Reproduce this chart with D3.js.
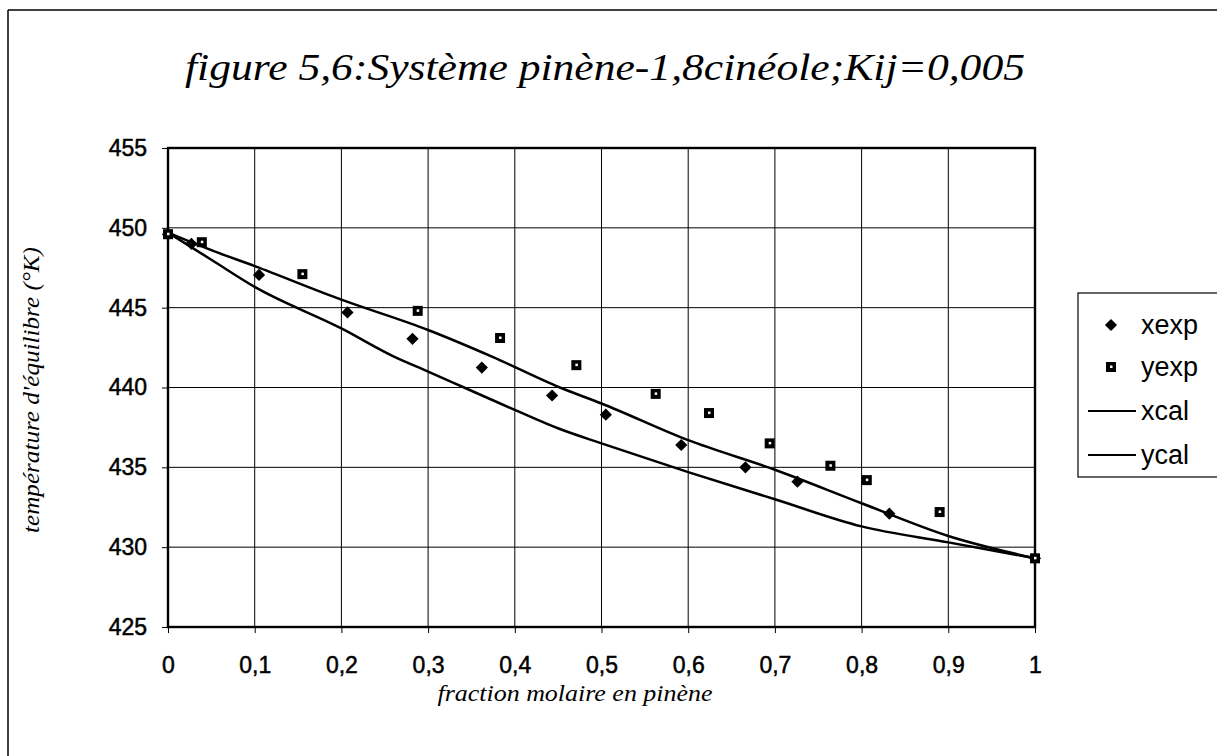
<!DOCTYPE html>
<html>
<head>
<meta charset="utf-8">
<script src="https://cdn.jsdelivr.net/npm/d3@7"></script>
<style>
html,body{margin:0;padding:0;background:#fff;}
svg{display:block;}
</style>
</head>
<body>
<svg id="chart" width="1217" height="756"></svg>
<script>
// ---- data ----
const titleText = "figure 5,6:Système pinène-1,8cinéole;Kij=0,005";
const xAxisTitle = "fraction molaire en pinène";
const yAxisTitle = "température d'équilibre (°K)";

const xTicks = [0, 0.1, 0.2, 0.3, 0.4, 0.5, 0.6, 0.7, 0.8, 0.9, 1];
const xTickLabels = ["0", "0,1", "0,2", "0,3", "0,4", "0,5", "0,6", "0,7", "0,8", "0,9", "1"];
const yTicks = [425, 430, 435, 440, 445, 450, 455];
const yTickLabels = ["425", "430", "435", "440", "445", "450", "455"];

const xexpX = [0, 0.027, 0.105, 0.207, 0.282, 0.362, 0.443, 0.505, 0.592, 0.666, 0.726, 0.832, 1];
const xexpT = [449.6, 449.0, 447.05, 444.7, 443.05, 441.25, 439.5, 438.3, 436.4, 435.0, 434.1, 432.1, 429.3];

const yexpX = [0, 0.039, 0.155, 0.288, 0.383, 0.471, 0.5625, 0.624, 0.694, 0.764, 0.806, 0.890, 1];
const yexpT = [449.6, 449.1, 447.1, 444.8, 443.1, 441.4, 439.6, 438.4, 436.5, 435.1, 434.2, 432.2, 429.3];

const xcalX = [0, 0.05, 0.1, 0.2, 0.3, 0.375, 0.452, 0.5, 0.6, 0.7, 0.8, 0.9, 1];
const xcalT = [449.7, 448.6, 447.6, 445.5, 443.6, 441.9, 440.0, 439.0, 436.7, 434.85, 432.75, 430.7, 429.3];

const ycalX = [0, 0.05, 0.1, 0.2, 0.26, 0.3, 0.4, 0.452, 0.5, 0.6, 0.7, 0.8, 0.9, 1];
const ycalT = [449.7, 448.0, 446.3, 443.7, 441.95, 441.0, 438.6, 437.4, 436.5, 434.7, 433.0, 431.3, 430.3, 429.3];

const legendNames = ["xexp", "yexp", "xcal", "ycal"];

// ---- drawing ----
const svg = d3.select("#chart");
const pL = 168, pR = 1035, pT = 148, pB = 627;
const x = d3.scaleLinear().domain([0, 1]).range([pL, pR]);
const y = d3.scaleLinear().domain([425, 455]).range([pB, pT]);

const sans = "'Liberation Sans', Arial, sans-serif";
const serif = "'Liberation Serif', 'Times New Roman', serif";

// outer frame
svg.append("line").attr("x1", 8).attr("x2", 1217).attr("y1", 10).attr("y2", 10)
  .attr("stroke", "#000").attr("stroke-width", 1.5);
svg.append("line").attr("x1", 8).attr("x2", 8).attr("y1", 10).attr("y2", 756)
  .attr("stroke", "#000").attr("stroke-width", 1.5);

// title
svg.append("text").attr("x", 605).attr("y", 80)
  .attr("text-anchor", "middle")
  .attr("font-family", serif).attr("font-style", "italic")
  .attr("font-size", 38)
  .attr("textLength", 840).attr("lengthAdjust", "spacingAndGlyphs")
  .text(titleText);

// gridlines
svg.append("g").selectAll("line").data(yTicks).join("line")
  .attr("x1", pL).attr("x2", pR)
  .attr("y1", d => y(d)).attr("y2", d => y(d))
  .attr("stroke", "#000").attr("stroke-width", 1);
svg.append("g").selectAll("line").data(xTicks).join("line")
  .attr("x1", d => x(d)).attr("x2", d => x(d))
  .attr("y1", pT).attr("y2", pB)
  .attr("stroke", "#000").attr("stroke-width", 1);

// axes
const xAxis = d3.axisBottom(x).tickValues(xTicks)
  .tickFormat((d, i) => xTickLabels[i]).tickSize(6).tickPadding(24).tickSizeOuter(0);
const gx = svg.append("g").attr("transform", `translate(0,${pB})`).call(xAxis);
gx.select(".domain").remove();
gx.selectAll("line").attr("stroke", "#000");
gx.selectAll("text").attr("font-family", sans).attr("font-size", 23).attr("fill", "#000")
  .attr("stroke", "#000").attr("stroke-width", 0.5);

const yAxis = d3.axisLeft(y).tickValues(yTicks)
  .tickFormat((d, i) => yTickLabels[i]).tickSize(6).tickPadding(15).tickSizeOuter(0);
const gy = svg.append("g").attr("transform", `translate(${pL},0)`).call(yAxis);
gy.select(".domain").remove();
gy.selectAll("line").attr("stroke", "#000");
gy.selectAll("text").attr("font-family", sans).attr("font-size", 23).attr("fill", "#000")
  .attr("stroke", "#000").attr("stroke-width", 0.5);

// plot border
svg.append("rect").attr("x", pL).attr("y", pT)
  .attr("width", pR - pL).attr("height", pB - pT)
  .attr("fill", "none").attr("stroke", "#000").attr("stroke-width", 2.4);

// curves
const line = d3.line().x(d => x(d[0])).y(d => y(d[1])).curve(d3.curveMonotoneX);
const xcalData = xcalX.map((v, i) => [v, xcalT[i]]);
const ycalData = ycalX.map((v, i) => [v, ycalT[i]]);
svg.append("path").datum(xcalData).attr("d", line)
  .attr("fill", "none").attr("stroke", "#000").attr("stroke-width", 2.5);
svg.append("path").datum(ycalData).attr("d", line)
  .attr("fill", "none").attr("stroke", "#000").attr("stroke-width", 2.5);

// markers
const diamond = d3.symbol().type(d3.symbolDiamond2).size(95);
svg.append("g").selectAll("path").data(xexpX.map((v, i) => [v, xexpT[i]])).join("path")
  .attr("d", diamond)
  .attr("transform", d => `translate(${x(d[0])},${y(d[1])})`)
  .attr("fill", "#000");

const sq = 10;
const gs = svg.append("g").selectAll("g").data(yexpX.map((v, i) => [v, yexpT[i]])).join("g")
  .attr("transform", d => `translate(${x(d[0])},${y(d[1])})`);
gs.append("rect").attr("x", -sq / 2).attr("y", -sq / 2).attr("width", sq).attr("height", sq)
  .attr("fill", "#000");
gs.append("rect").attr("x", -1).attr("y", -1.5).attr("width", 2.5).attr("height", 2.5)
  .attr("fill", "#fff");

// axis titles
svg.append("text").attr("x", 575).attr("y", 701)
  .attr("text-anchor", "middle")
  .attr("font-family", serif).attr("font-style", "italic").attr("font-size", 23)
  .attr("textLength", 275).attr("lengthAdjust", "spacingAndGlyphs")
  .text(xAxisTitle);
svg.append("text")
  .attr("transform", "translate(39,390) rotate(-90)")
  .attr("text-anchor", "middle")
  .attr("font-family", serif).attr("font-style", "italic").attr("font-size", 23)
  .attr("textLength", 286).attr("lengthAdjust", "spacingAndGlyphs")
  .text(yAxisTitle);

// legend
const lg = svg.append("g");
lg.append("rect").attr("x", 1078).attr("y", 293).attr("width", 160).attr("height", 184)
  .attr("fill", "#fff").attr("stroke", "#000").attr("stroke-width", 1.2);
const rowY = [325, 367, 411, 455];
legendNames.forEach((name, i) => {
  const cy = rowY[i];
  if (i === 0) {
    lg.append("path").attr("d", diamond).attr("transform", `translate(1111,${cy})`).attr("fill", "#000");
  } else if (i === 1) {
    lg.append("rect").attr("x", 1111 - sq / 2).attr("y", cy - sq / 2).attr("width", sq).attr("height", sq).attr("fill", "#000");
    lg.append("rect").attr("x", 1110).attr("y", cy - 1.5).attr("width", 2.5).attr("height", 2.5).attr("fill", "#fff");
  } else {
    lg.append("line").attr("x1", 1088).attr("x2", 1136).attr("y1", cy).attr("y2", cy)
      .attr("stroke", "#000").attr("stroke-width", 2);
  }
  lg.append("text").attr("x", 1141).attr("y", cy).attr("dy", "0.35em")
    .attr("font-family", sans).attr("font-size", 27).attr("fill", "#000")
    .text(name);
});
</script>
</body>
</html>
